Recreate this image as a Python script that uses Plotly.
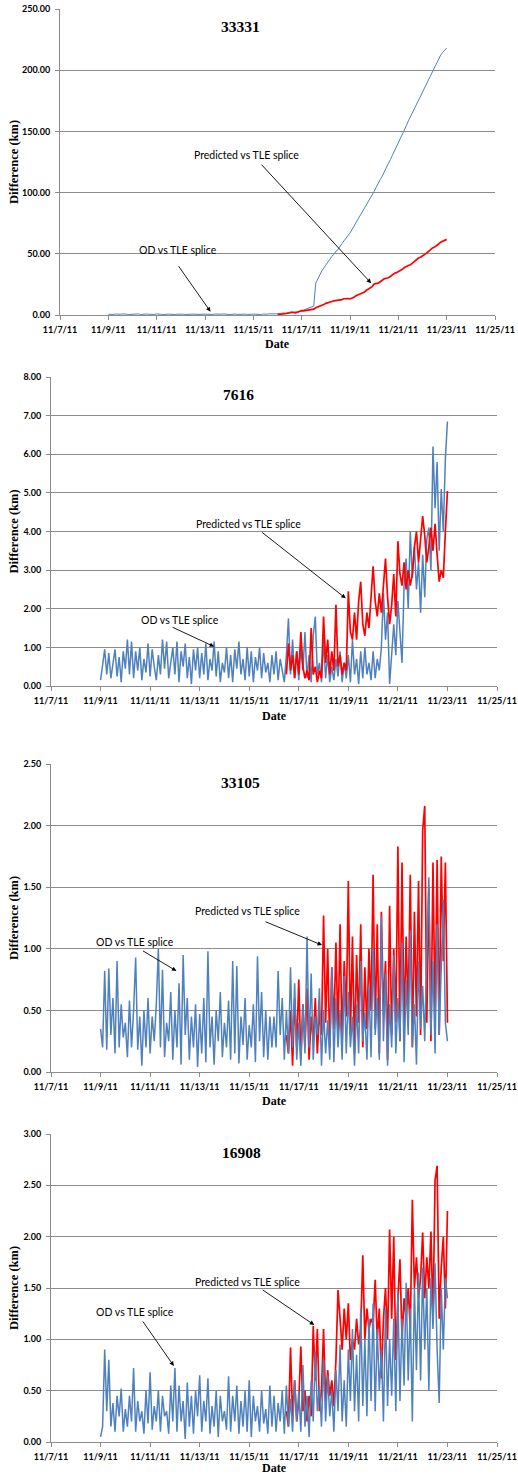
import pandas as pd
import plotly.graph_objects as go

W, H = 518, 1477

# ---------------- data ----------------
titles = ["33331", "7616", "33105", "16908"]
x_ticks_start = "2011-11-07"
x_ticks_end = "2011-11-25"
step = "2h"

blue_start = "2011-11-09 00:00"
red_start_1 = "2011-11-16 00:00"
red_start = "2011-11-16 12:00"

# Panel 1 : 33331
p1_blue = [
    0.6, 0.4, 0.7, 0.5, 0.8, 0.4, 0.6, 0.9, 0.5, 0.7, 0.4, 0.6,
    0.8, 0.5, 0.6, 0.9, 0.4, 0.7, 0.5, 0.8, 0.6, 0.4, 0.7, 0.5,
    0.9, 0.5, 0.6, 0.4, 0.8, 0.6, 0.7, 0.5, 0.9, 0.4, 0.6, 0.8,
    0.5, 0.7, 0.4, 0.6, 0.9, 0.5, 0.7, 0.6, 0.4, 0.8, 0.5, 0.7,
    0.6, 0.9, 0.4, 0.7, 0.5, 0.8, 0.6, 0.4, 0.7, 0.9, 0.5, 0.6,
    0.4, 0.7, 0.6, 0.8, 0.5, 0.6, 0.9, 0.4, 0.7, 0.5, 0.8, 0.6,
    0.7, 0.5, 0.9, 0.6, 0.4, 0.8, 0.6, 0.7, 1.0, 0.8, 1.1, 0.9,
    1.2, 1.0, 1.4, 1.7, 1.3, 1.9, 2.3, 1.8, 2.1, 2.6, 2.2, 2.9,
    3.4, 3.9, 4.6, 5.2, 6.1, 6.6, 7.3, 26.0, 29.5, 33.2, 36.0, 38.4,
    41.0, 43.2, 45.3, 47.9, 49.6, 52.1, 53.4, 56.2, 58.3, 60.6, 62.4, 64.9,
    67.0, 69.8, 71.9, 74.6, 77.8, 80.2, 83.0, 86.3, 88.9, 92.2, 95.1, 97.8,
    101.0, 104.3, 106.9, 110.6, 113.4, 117.2, 120.0, 123.7, 126.8, 130.2, 133.4, 136.9,
    140.0, 143.8, 147.2, 151.1, 154.7, 158.6, 162.0, 165.3, 169.2, 172.1, 175.3, 178.7,
    182.0, 185.6, 188.8, 192.7, 195.9, 199.3, 203.0, 205.8, 209.1, 212.3, 214.6, 216.4,
    218.0,
]
p1_red = [
    0.3, 0.5, 0.7, 1.0, 1.4, 1.1, 1.6, 2.4, 2.0, 1.7, 2.5, 3.0,
    3.5, 3.3, 3.6, 4.0, 4.2, 4.1, 4.8, 5.9, 6.6, 6.9, 7.4, 8.6,
    9.5, 9.8, 10.3, 11.0, 11.6, 11.8, 12.0, 12.2, 12.6, 13.3, 13.6, 13.4,
    13.1, 13.6, 14.5, 15.8, 16.6, 17.0, 17.6, 18.5, 20.0, 21.3, 22.0, 23.2,
    25.3, 25.6, 26.0, 27.2, 28.5, 29.5, 30.0, 30.4, 31.5, 32.8, 34.0, 34.6,
    35.4, 36.0, 37.3, 38.8, 40.0, 40.5, 41.0, 42.4, 43.8, 45.2, 46.5, 47.2,
    48.2, 48.8, 50.5, 52.0, 53.5, 54.8, 55.5, 56.5, 58.0, 59.5, 60.5, 60.8,
    61.8,
]

# Panel 2 : 7616
p2_blue = [
    0.15, 0.55, 0.95, 0.3, 0.85, 0.2, 0.6, 0.95, 0.25, 0.75, 0.1, 0.9,
    0.45, 1.2, 0.3, 1.15, 0.2, 0.9, 0.4, 1.0, 0.15, 0.7, 0.35, 1.1,
    0.25, 0.95, 0.5, 0.15, 0.8, 0.3, 1.2, 0.45, 1.15, 0.2, 0.6, 1.0,
    0.3, 1.15, 0.1, 0.9, 0.5, 1.1, 0.2, 0.75, 0.05, 0.95, 0.4, 1.0,
    0.2, 0.85, 0.3, 1.1, 0.15, 0.7, 0.4, 1.15, 0.25, 0.9, 0.1, 0.6,
    0.35, 1.0, 0.2, 0.8, 0.1, 0.95, 0.45, 1.15, 0.3, 0.7, 0.15, 1.0,
    0.25, 0.9, 0.1, 0.75, 0.4, 1.0, 0.2, 0.85, 0.35, 0.6, 0.1, 0.8,
    0.3, 0.9, 0.15, 0.7, 0.4, 0.1, 0.8, 1.75, 0.3, 1.2, 0.2, 0.9,
    0.15, 1.0, 0.4, 1.4, 0.2, 0.8, 0.1, 1.3, 1.8, 0.3, 0.6, 0.1,
    1.2, 0.2, 0.8, 0.1, 0.5, 0.15, 0.7, 0.25, 0.9, 0.1, 0.6, 0.2,
    0.8, 0.1, 1.2, 0.3, 0.7, 0.05, 0.9, 0.2, 1.0, 0.3, 0.6, 0.15,
    0.9, 0.2, 0.7, 0.4, 1.0, 2.4, 1.2, 1.9, 0.05, 0.9, 1.6, 0.8,
    2.2, 1.4, 0.6, 2.6, 3.3, 2.0, 4.0, 2.8, 3.6, 2.5, 3.2, 1.9,
    3.4, 2.3, 3.8, 4.1, 3.0, 6.2, 4.6, 5.8, 3.5, 5.1, 4.0, 5.9,
    6.85,
]
p2_red = [
    0.3, 1.1, 0.4, 0.8, 0.2, 0.9,
    0.3, 1.4, 0.5, 0.2, 0.4, 0.15, 1.5, 0.3, 0.5, 0.1, 0.4, 0.2,
    1.8, 0.6, 1.2, 0.3, 0.9, 0.4, 2.1, 0.5, 0.8, 0.3, 0.6, 0.4,
    2.45, 1.4, 1.2, 1.9, 1.2, 2.2, 2.7, 1.6, 1.3, 1.9, 1.5, 2.4,
    3.1, 2.2, 1.8, 2.4, 1.9, 2.6, 3.3, 2.3, 1.6, 2.1, 2.9, 1.8,
    3.75, 2.9, 2.6, 3.2, 2.5, 3.0, 2.6, 2.9, 3.6, 4.0, 3.2, 3.8,
    4.4, 3.9, 3.2, 3.6, 4.1, 3.5, 4.2, 3.4, 2.7, 3.0, 2.8, 4.0,
    5.05,
]

# Panel 3 : 33105
p3_blue = [
    0.35, 0.2, 0.82, 0.18, 0.84, 0.3, 0.6, 0.15, 0.9, 0.2, 0.55, 0.28,
    0.4, 0.12, 0.58, 0.2, 0.5, 0.93, 0.18, 0.45, 0.05, 0.5, 0.2, 0.6,
    0.15, 0.45, 0.25, 0.55, 1.0, 0.2, 0.83, 0.12, 0.4, 0.25, 0.65, 0.1,
    0.5, 0.2, 0.72, 0.06, 0.95, 0.3, 0.6, 0.1, 0.45, 0.2, 0.55, 0.04,
    0.47, 0.15, 0.6, 0.08, 0.98, 0.2, 0.45, 0.06, 0.5, 0.25, 0.65, 0.12,
    0.4, 0.2, 0.58, 0.1, 0.9, 0.15, 0.86, 0.07, 0.45, 0.22, 0.6, 0.1,
    0.38, 0.2, 0.55, 0.08, 0.94, 0.25, 0.65, 0.12, 0.5, 0.1, 0.45, 0.2,
    0.45, 0.2, 0.82, 0.3, 0.6, 0.1, 0.5, 0.15, 0.85, 0.2, 0.72, 0.1,
    0.4, 0.05, 0.55, 0.15, 1.1, 0.2, 0.8, 0.1, 0.45, 0.3, 0.68, 0.05,
    0.5, 0.15, 0.42, 0.1, 0.85, 0.08, 0.6, 0.2, 0.5, 0.1, 0.78, 0.15,
    0.65, 0.2, 0.45, 0.05, 0.55, 0.15, 0.9, 0.25, 0.48, 0.1, 0.7, 0.12,
    1.0, 0.3, 0.6, 0.1, 1.26, 0.25, 0.8, 0.05, 0.55, 0.2, 0.95, 0.15,
    0.6, 0.25, 1.05, 0.08, 0.75, 0.3, 1.15, 0.2, 0.55, 0.06, 0.9, 0.35,
    0.7, 0.25, 1.0, 1.58, 0.3, 0.9, 0.15, 1.2, 0.3, 0.8, 1.4, 0.4,
    0.25,
]
p3_red = [
    0.3, 0.15, 0.5, 0.05, 0.6, 0.2,
    0.75, 0.1, 0.55, 0.2, 0.68, 0.1, 0.45, 0.25, 0.6, 0.15, 0.5, 0.3,
    1.27, 0.4, 1.0, 0.2, 0.85, 0.35, 1.05, 0.3, 1.2, 0.25, 0.9, 0.45,
    1.55, 0.3, 1.1, 0.15, 0.95, 0.4, 1.2, 0.2, 0.85, 0.35, 1.0, 0.5,
    1.6, 0.35, 1.2, 0.15, 1.3, 0.5, 0.9, 0.1, 1.35, 0.3, 1.0, 0.4,
    1.83, 0.25, 1.7, 0.35, 1.1, 0.5, 1.6, 0.2, 1.3, 0.45, 1.55, 0.3,
    1.96, 2.16, 0.4, 1.5, 0.25, 1.7, 0.45, 1.72, 0.3, 1.75, 0.9, 1.7,
    0.4,
]

# Panel 4 : 16908
p4_blue = [
    0.05, 0.15, 0.9, 0.3, 0.8, 0.15, 0.38, 0.1, 0.45, 0.25, 0.52, 0.1,
    0.32, 0.15, 0.45, 0.2, 0.72, 0.1, 0.4, 0.2, 0.3, 0.08, 0.5, 0.18,
    0.68, 0.12, 0.35, 0.2, 0.5, 0.1, 0.45, 0.25, 0.3, 0.08, 0.55, 0.2,
    0.72, 0.1, 0.55, 0.2, 0.4, 0.03, 0.58, 0.15, 0.45, 0.08, 0.5, 0.25,
    0.65, 0.1, 0.4, 0.2, 0.62, 0.08, 0.35, 0.15, 0.5, 0.05, 0.45, 0.2,
    0.3, 0.12, 0.64, 0.1, 0.45, 0.2, 0.55, 0.08, 0.4, 0.15, 0.5, 0.1,
    0.6, 0.05, 0.45, 0.2, 0.35, 0.1, 0.5, 0.18, 0.32, 0.08, 0.55, 0.15,
    0.45, 0.1, 0.38, 0.2, 0.5, 0.08, 0.55, 0.15, 0.42, 0.1, 0.6, 0.2,
    0.5, 0.1, 0.75, 0.15, 0.45, 0.05, 0.6, 0.2, 0.88, 0.3, 0.55, 0.15,
    0.8, 0.2, 0.65, 0.25, 0.5, 0.1, 0.7, 0.3, 0.95, 0.2, 0.6, 0.15,
    0.9, 0.4, 1.1, 0.3, 0.85, 0.2, 1.3, 0.35, 1.0, 0.25, 1.2, 0.4,
    1.35, 0.3, 1.1, 0.5, 0.9, 0.2, 1.3, 0.35, 1.0, 0.45, 1.2, 0.3,
    1.45, 0.4, 1.2, 0.55, 1.55, 0.6, 1.3, 0.2, 1.5, 0.7, 1.65, 0.6,
    1.7, 0.9, 1.5, 0.5, 1.6, 1.1, 1.74, 0.9, 0.38, 1.5, 0.9, 1.6,
    1.4,
]
p4_red = [
    0.3, 0.15, 0.92, 0.25, 0.6, 0.2,
    0.4, 0.93, 0.3, 0.5, 0.2, 0.45, 0.25, 1.13, 0.6, 1.1, 0.3, 0.5,
    1.1, 0.4, 0.7, 0.45, 0.6, 0.35, 0.8, 1.48, 1.2, 0.9, 1.3, 1.0,
    1.35, 0.8, 1.0, 0.9, 1.2, 0.95, 1.1, 1.82, 1.0, 1.3, 1.1, 1.2,
    1.15, 1.58, 1.0, 1.3, 0.62, 1.2, 1.5, 1.0, 2.07, 1.2, 2.0, 0.8,
    1.4, 1.78, 1.0, 1.4, 1.2, 1.5, 1.1, 2.36, 1.5, 1.8, 1.4, 1.6,
    2.04, 1.4, 1.8, 1.5, 2.05, 1.2, 2.55, 2.69, 1.2, 1.7, 2.0, 1.3,
    2.25,
]

y_ranges = [(0, 250), (0, 8), (0, 2.5), (0, 3)]
y_dticks = [50, 1, 0.5, 0.5]

label_od = "OD vs TLE splice"
label_pred = "Predicted vs TLE splice"

# ---------------- layout geometry (pixels) ----------------
x_dom_px = [(60, 495), (51, 497), (51, 497), (51, 497)]
y_dom_px = [(9, 315), (377, 686), (764, 1072), (1134, 1442)]
title_px = [(240, 27), (238, 395), (240, 782), (241, 1152)]
date_px_y = [344, 716, 1101, 1468]

# annotation arrows: (tip date, tip value, ax, ay) and text centers
arrows = [
    [("2011-11-13 05:30", 2.7, -33, -47), ("2011-11-19 21:00", 26.0, -111, -120)],
    [("2011-11-13 14:00", 1.02, -43, -20), ("2011-11-18 21:30", 2.27, -85, -67)],
    [("2011-11-12 01:30", 0.82, -35, -21), ("2011-11-17 22:30", 1.03, -58, -24)],
    [("2011-11-11 23:00", 0.74, -32, -46), ("2011-11-17 15:00", 1.14, -53, -36)],
]
text_px = [
    [(178, 250), (246, 155)],
    [(180, 620), (248, 524)],
    [(135, 942), (247, 911)],
    [(135, 1312), (247, 1282)],
]

BLUE = "#4F81BD"
RED = "#FF0000"
GRID = "#8c8c8c"


def px(x, y):
    return x / W, 1 - y / H


def series_x(start, n):
    return pd.date_range(start, periods=n, freq=step)


fig = go.Figure()

panels = [
    (p1_blue, p1_red, red_start_1, False),
    (p2_blue, p2_red, red_start, False),
    (p3_blue, p3_red, red_start, True),
    (p4_blue, p4_red, red_start, True),
]

for i, (b, r, rs, blue_on_top) in enumerate(panels):
    xa = "x" if i == 0 else f"x{i+1}"
    ya = "y" if i == 0 else f"y{i+1}"
    bw = 1.0 if i == 0 else 1.5
    rw = 1.7
    tb = go.Scatter(x=series_x(blue_start, len(b)), y=b, mode="lines",
                    line=dict(color=BLUE, width=bw), xaxis=xa, yaxis=ya,
                    hoverinfo="skip")
    tr = go.Scatter(x=series_x(rs, len(r)), y=r, mode="lines",
                    line=dict(color=RED, width=rw), xaxis=xa, yaxis=ya,
                    hoverinfo="skip")
    if blue_on_top:
        fig.add_trace(tr)
        fig.add_trace(tb)
    else:
        fig.add_trace(tb)
        fig.add_trace(tr)

layout = dict(
    width=W, height=H, autosize=False,
    margin=dict(l=0, r=0, t=0, b=0, pad=0),
    paper_bgcolor="white", plot_bgcolor="white",
    showlegend=False,
)

tickfont = dict(family="Lato, Open Sans, sans-serif", size=9, color="black", weight="bold")
annotations = []
for i in range(4):
    xk = "xaxis" if i == 0 else f"xaxis{i+1}"
    yk = "yaxis" if i == 0 else f"yaxis{i+1}"
    ya = "y" if i == 0 else f"y{i+1}"
    xa = "x" if i == 0 else f"x{i+1}"
    x0, x1 = x_dom_px[i]
    y0, y1 = y_dom_px[i]
    layout[xk] = dict(
        domain=[x0 / W, x1 / W], anchor=ya, type="date",
        range=[x_ticks_start, x_ticks_end], tick0=x_ticks_start,
        dtick=2 * 86400000, tickformat="%-m/%-d/%y",
        showgrid=False, showline=True, linecolor=GRID, linewidth=1,
        ticks="outside", ticklen=4, tickcolor=GRID, tickwidth=1,
        tickfont=tickfont, ticklabelstandoff=2, zeroline=False,
        fixedrange=True, automargin=False,
    )
    layout[yk] = dict(
        domain=[1 - y1 / H, 1 - y0 / H], anchor=xa,
        range=list(y_ranges[i]), dtick=y_dticks[i], tick0=0,
        tickformat=".2f", showgrid=True, gridcolor=GRID, gridwidth=1,
        showline=True, linecolor=GRID, linewidth=1,
        ticks="outside", ticklen=4, tickcolor=GRID, tickwidth=1,
        tickfont=tickfont, ticklabelstandoff=3, zeroline=False,
        fixedrange=True, automargin=False,
    )
    # chart title
    tx, ty = px(*title_px[i])
    annotations.append(dict(text=f"<b>{titles[i]}</b>", x=tx, y=ty, xref="paper", yref="paper",
                            showarrow=False, xanchor="center", yanchor="middle",
                            font=dict(family="Liberation Serif, serif", size=15.5, color="black")))
    # x title
    dx, dy = px((x0 + x1) / 2, date_px_y[i])
    annotations.append(dict(text="<b>Date</b>", x=dx, y=dy, xref="paper", yref="paper",
                            showarrow=False, xanchor="center", yanchor="middle",
                            font=dict(family="Liberation Serif, serif", size=12, color="black")))
    # y title
    yx, yy = px(14, (y0 + y1) / 2)
    annotations.append(dict(text="<b>Difference (km)</b>", x=yx, y=yy, xref="paper", yref="paper",
                            showarrow=False, xanchor="center", yanchor="middle", textangle=-90,
                            font=dict(family="Liberation Serif, serif", size=12.5, color="black")))
    # labels + arrows
    for (tip_x, tip_y, ax, ay), (cx, cy), lab in zip(arrows[i], text_px[i], [label_od, label_pred]):
        lx, ly = px(cx, cy)
        annotations.append(dict(text=lab, x=lx, y=ly, xref="paper", yref="paper",
                                showarrow=False, xanchor="center", yanchor="middle",
                                font=dict(family="Lato, Open Sans, sans-serif", size=10.5, color="black")))
        annotations.append(dict(text="", x=tip_x, y=tip_y, xref=xa, yref=ya,
                                showarrow=True, ax=ax, ay=ay, arrowhead=2, arrowsize=1,
                                arrowwidth=0.9, arrowcolor="black", standoff=0, startstandoff=0))

layout["annotations"] = annotations
fig.update_layout(**layout)
fig.write_html("out.html")
